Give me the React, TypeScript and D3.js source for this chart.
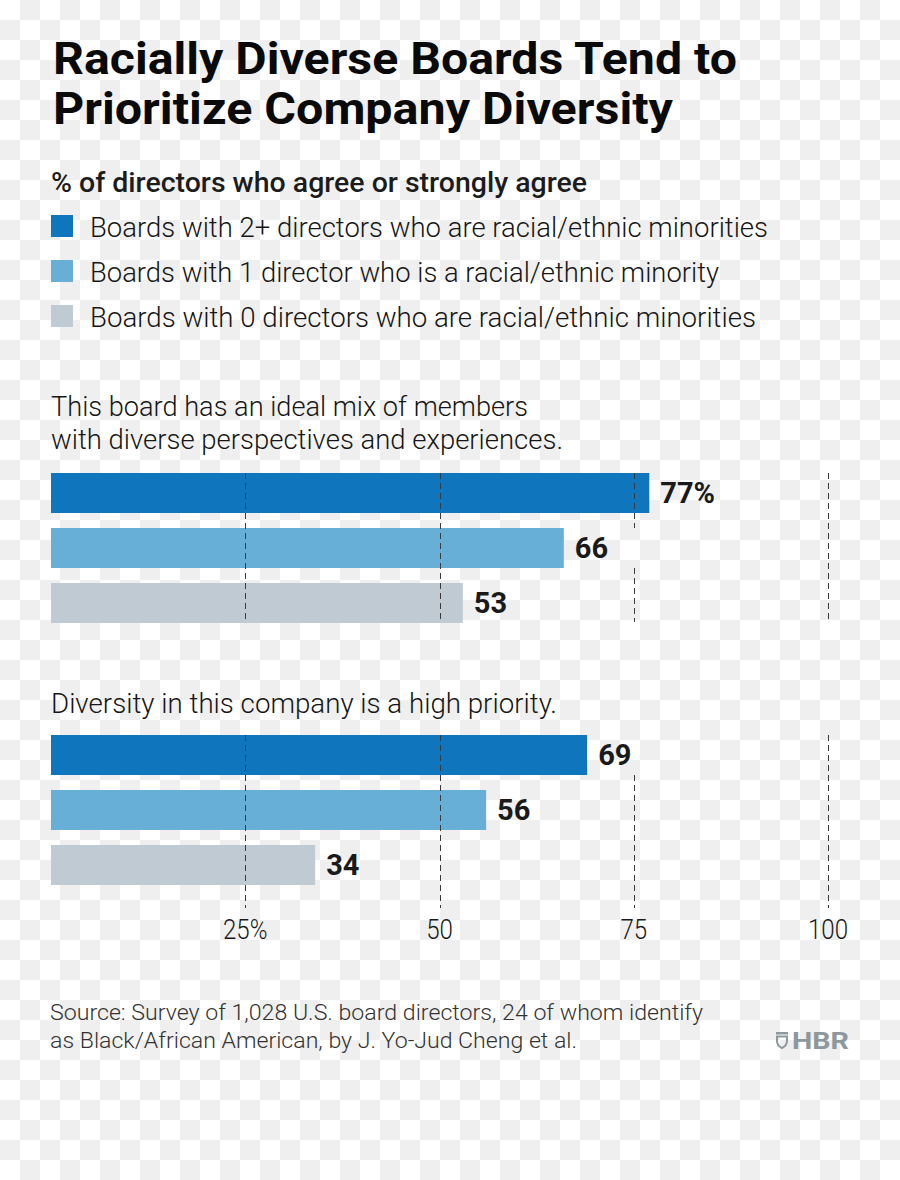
import React from "react";
import * as d3 from "d3";

const titleLines = ["Racially Diverse Boards Tend to", "Prioritize Company Diversity"];
const subtitle = "% of directors who agree or strongly agree";
const seriesNames = [
  "Boards with 2+ directors who are racial/ethnic minorities",
  "Boards with 1 director who is a racial/ethnic minority",
  "Boards with 0 directors who are racial/ethnic minorities",
];
const seriesColors = ["#0f76bd", "#68afd7", "#bfcad2"];
const question1 = ["This board has an ideal mix of members", "with diverse perspectives and experiences."];
const question2 = ["Diversity in this company is a high priority."];
const values1 = [77, 66, 53];
const values2 = [69, 56, 34];
const tickValues = [25, 50, 75, 100];
const tickLabels = ["25%", "50", "75", "100"];
const sourceLines = [
  "Source: Survey of 1,028 U.S. board directors, 24 of whom identify",
  "as Black/African American, by J. Yo-Jud Cheng et al.",
];

const W = 900;
const H = 1180;
const FONT = "Roboto, 'Noto Sans', sans-serif";

const x = d3.scaleLinear().domain([0, 100]).range([51, 828]);

type Group = {
  lines: string[];
  lineWidths: number[];
  labelBaseline: number;
  values: number[];
  top: number;
  gridBottom: number;
};

const groups: Group[] = [
  { lines: question1, lineWidths: [477, 512], labelBaseline: 416, values: values1, top: 473, gridBottom: 622 },
  { lines: question2, lineWidths: [506], labelBaseline: 713, values: values2, top: 735, gridBottom: 908 },
];

function gridSegments(g: Group, y: d3.ScaleBand<string>, tick: number): [number, number][] {
  const gaps: [number, number][] = [];
  g.values.forEach((v, i) => {
    const d = tick - v;
    if (d > 0 && d <= 12) {
      const t = y(String(i))!;
      gaps.push([t, t + y.bandwidth()]);
    }
  });
  let segs: [number, number][] = [[g.top, g.gridBottom]];
  gaps.forEach(([a, b]) => {
    const next: [number, number][] = [];
    segs.forEach(([s, e]) => {
      if (b <= s || a >= e) next.push([s, e]);
      else {
        if (a > s) next.push([s, a]);
        if (b < e) next.push([b, e]);
      }
    });
    segs = next;
  });
  return segs;
}

export default function App() {
  const legendY = d3.scaleBand<number>().domain([0, 1, 2]).range([215, 327]).paddingInner(23 / 45);
  return (
    <div style={{ position: "absolute", left: 0, top: 0 }}>
      <svg width={W} height={H} style={{ display: "block" }} fontFamily={FONT}>
        <defs>
          <pattern id="checker" width={40} height={40} patternUnits="userSpaceOnUse">
            <rect width={40} height={40} fill="#ffffff" />
            <rect x={20} y={0} width={20} height={20} fill="#efefef" />
            <rect x={0} y={20} width={20} height={20} fill="#efefef" />
          </pattern>
        </defs>
        <rect width={W} height={H} fill="url(#checker)" />

        {/* Title */}
        {titleLines.map((t, i) => (
          <text
            key={t}
            x={53}
            y={74 + i * 50}
            fontSize={45}
            fontWeight={700}
            fill="#0a0a0a"
            textLength={i === 0 ? 684 : 620}
            lengthAdjust="spacingAndGlyphs"
          >
            {t}
          </text>
        ))}

        {/* Subtitle */}
        <text x={51} y={192} fontSize={28} fontWeight={500} fill="#1c1c1c" textLength={536} lengthAdjust="spacingAndGlyphs">
          {subtitle}
        </text>

        {/* Legend */}
        {seriesNames.map((s, i) => {
          const yy = legendY(i)!;
          const widths = [678, 629, 666];
          return (
            <g key={s}>
              <rect x={51} y={yy} width={22} height={22} fill={seriesColors[i]} />
              <text x={90} y={yy + 22} fontSize={28} fontWeight={300} fill="#161616" textLength={widths[i]} lengthAdjust="spacingAndGlyphs">
                {s}
              </text>
            </g>
          );
        })}

        {/* Groups */}
        {groups.map((g, gi) => {
          const y = d3
            .scaleBand<string>()
            .domain(g.values.map((_, i) => String(i)))
            .range([g.top, g.top + 150])
            .paddingInner(15 / 55);
          return (
            <g key={gi}>
              {g.lines.map((l, li) => (
                <text
                  key={l}
                  x={51}
                  y={g.labelBaseline + li * 33}
                  fontSize={28}
                  fontWeight={300}
                  fill="#161616"
                  textLength={g.lineWidths[li]}
                  lengthAdjust="spacingAndGlyphs"
                >
                  {l}
                </text>
              ))}
              {g.values.map((v, i) => (
                <rect key={i} x={x(0)} y={y(String(i))} width={x(v) - x(0)} height={y.bandwidth()} fill={seriesColors[i]} />
              ))}
              {tickValues.map((t) =>
                gridSegments(g, y, t).map(([a, b], si) => (
                  <line
                    key={t + "-" + si}
                    x1={Math.round(x(t)) + 0.5}
                    x2={Math.round(x(t)) + 0.5}
                    y1={a}
                    y2={b}
                    stroke="#3a3a3a"
                    strokeWidth={1}
                    strokeDasharray="6,4"
                  />
                ))
              )}
              {g.values.map((v, i) => (
                <text
                  key={"l" + i}
                  x={x(v) + 11}
                  y={y(String(i))! + 30}
                  fontSize={29}
                  fontWeight={700}
                  fill="#1a1a1a"
                >
                  {gi === 0 && i === 0 ? `${v}%` : `${v}`}
                </text>
              ))}
            </g>
          );
        })}

        {/* Axis labels */}
        {tickValues.map((t, i) => (
          <text
            key={t}
            transform={`translate(${x(t)},939) scale(0.86,1)`}
            textAnchor="middle"
            fontSize={28}
            fontWeight={300}
            fill="#1a1a1a"
          >
            {tickLabels[i]}
          </text>
        ))}

        {/* Source */}
        {sourceLines.map((s, i) => (
          <text
            key={s}
            x={50}
            y={1020 + i * 28}
            fontSize={22}
            fontWeight={300}
            fill="#333333"
            textLength={i === 0 ? 653 : 527}
            lengthAdjust="spacingAndGlyphs"
          >
            {s}
          </text>
        ))}

        {/* HBR logo */}
        <g fill="none" stroke="#8d979e">
          <rect x={776} y={1032} width={12} height={2.5} fill="#8d979e" stroke="none" />
          <path d="M777,1036.5 L787,1036.5 L787,1041 Q787,1045.5 782,1048 Q777,1045.5 777,1041 Z" strokeWidth={2} />
        </g>
        <text x={792} y={1049} fontSize={23} fontWeight={700} fill="#8d979e" textLength={57} lengthAdjust="spacingAndGlyphs">
          HBR
        </text>
      </svg>
    </div>
  );
}
